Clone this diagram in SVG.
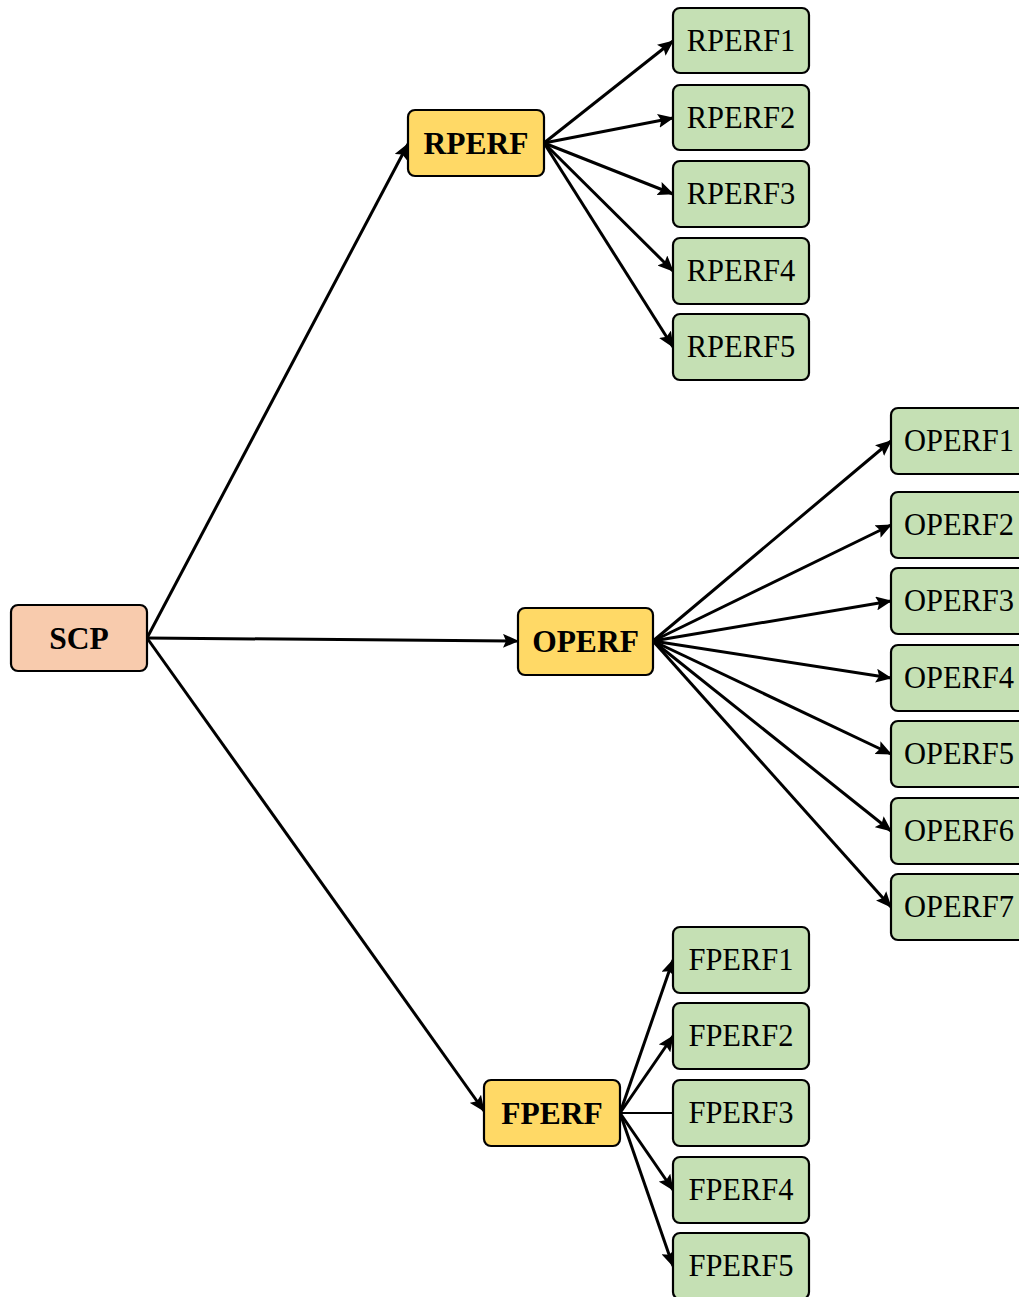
<svg xmlns="http://www.w3.org/2000/svg" width="1019" height="1297" viewBox="0 0 1019 1297">
<style>
.box{stroke:#000;stroke-width:2.2}
.root{fill:#f8cbad}
.mid{fill:#ffd966}
.leaf{fill:#c5e0b4}
.tb{font-family:"Liberation Serif","Times New Roman",serif;font-weight:bold;font-size:31.5px;text-anchor:middle;fill:#000}
.tr{font-family:"Liberation Serif","Times New Roman",serif;font-size:30.5px;text-anchor:middle;fill:#000}
.e{stroke:#000;stroke-width:3;fill:none}
.a{marker-end:url(#arr)}
</style>
<defs>
<marker id="arr" markerUnits="userSpaceOnUse" markerWidth="16" markerHeight="14" refX="15" refY="7" orient="auto">
<path d="M0,0 L16,7 L0,14 L3,7 Z" fill="#000"/>
</marker>
</defs>
<g id="connectors">
<line class="e a" x1="147" y1="638" x2="408" y2="144"/>
<line class="e a" x1="147" y1="638" x2="518" y2="641"/>
<line class="e a" x1="147" y1="638" x2="484" y2="1111"/>
<line class="e a" x1="544" y1="143" x2="673" y2="41"/>
<line class="e a" x1="544" y1="143" x2="673" y2="118"/>
<line class="e a" x1="544" y1="143" x2="673" y2="194"/>
<line class="e a" x1="544" y1="143" x2="673" y2="271"/>
<line class="e a" x1="544" y1="143" x2="673" y2="347"/>
<line class="e a" x1="653" y1="641" x2="891" y2="441"/>
<line class="e a" x1="653" y1="641" x2="891" y2="525"/>
<line class="e a" x1="653" y1="641" x2="891" y2="601"/>
<line class="e a" x1="653" y1="641" x2="891" y2="678"/>
<line class="e a" x1="653" y1="641" x2="891" y2="754"/>
<line class="e a" x1="653" y1="641" x2="891" y2="831"/>
<line class="e a" x1="653" y1="641" x2="891" y2="907"/>
<line class="e a" x1="620" y1="1113" x2="673" y2="960"/>
<line class="e a" x1="620" y1="1113" x2="673" y2="1036"/>
<line class="e" x1="620" y1="1113" x2="673" y2="1113" style="stroke-width:2"/>
<line class="e a" x1="620" y1="1113" x2="673" y2="1190"/>
<line class="e a" x1="620" y1="1113" x2="673" y2="1266"/>
</g>
<g id="SCP"><rect class="box root" x="11" y="605" width="136" height="66" rx="7"/><text class="tb" x="79" y="648.5">SCP</text></g>
<g id="RPERF"><rect class="box mid" x="408" y="110" width="136" height="66" rx="7"/><text class="tb" x="476" y="153.5">RPERF</text></g>
<g id="OPERF"><rect class="box mid" x="518" y="608" width="135" height="67" rx="7"/><text class="tb" x="585.5" y="652">OPERF</text></g>
<g id="FPERF"><rect class="box mid" x="484" y="1080" width="136" height="66" rx="7"/><text class="tb" x="552" y="1123.5">FPERF</text></g>
<g id="RPERF1"><rect class="box leaf" x="673" y="8" width="136" height="65" rx="7"/><text class="tr" x="741" y="50.5">RPERF1</text></g>
<g id="RPERF2"><rect class="box leaf" x="673" y="85" width="136" height="65" rx="7"/><text class="tr" x="741" y="127.5">RPERF2</text></g>
<g id="RPERF3"><rect class="box leaf" x="673" y="161" width="136" height="66" rx="7"/><text class="tr" x="741" y="204">RPERF3</text></g>
<g id="RPERF4"><rect class="box leaf" x="673" y="238" width="136" height="66" rx="7"/><text class="tr" x="741" y="281">RPERF4</text></g>
<g id="RPERF5"><rect class="box leaf" x="673" y="314" width="136" height="66" rx="7"/><text class="tr" x="741" y="357">RPERF5</text></g>
<g id="OPERF1"><rect class="box leaf" x="891" y="408" width="136" height="66" rx="7"/><text class="tr" x="959" y="451">OPERF1</text></g>
<g id="OPERF2"><rect class="box leaf" x="891" y="492" width="136" height="66" rx="7"/><text class="tr" x="959" y="535">OPERF2</text></g>
<g id="OPERF3"><rect class="box leaf" x="891" y="568" width="136" height="66" rx="7"/><text class="tr" x="959" y="611">OPERF3</text></g>
<g id="OPERF4"><rect class="box leaf" x="891" y="645" width="136" height="66" rx="7"/><text class="tr" x="959" y="688">OPERF4</text></g>
<g id="OPERF5"><rect class="box leaf" x="891" y="721" width="136" height="66" rx="7"/><text class="tr" x="959" y="764">OPERF5</text></g>
<g id="OPERF6"><rect class="box leaf" x="891" y="798" width="136" height="66" rx="7"/><text class="tr" x="959" y="841">OPERF6</text></g>
<g id="OPERF7"><rect class="box leaf" x="891" y="874" width="136" height="66" rx="7"/><text class="tr" x="959" y="917">OPERF7</text></g>
<g id="FPERF1"><rect class="box leaf" x="673" y="927" width="136" height="66" rx="7"/><text class="tr" x="741" y="970">FPERF1</text></g>
<g id="FPERF2"><rect class="box leaf" x="673" y="1003" width="136" height="66" rx="7"/><text class="tr" x="741" y="1046">FPERF2</text></g>
<g id="FPERF3"><rect class="box leaf" x="673" y="1080" width="136" height="66" rx="7"/><text class="tr" x="741" y="1123">FPERF3</text></g>
<g id="FPERF4"><rect class="box leaf" x="673" y="1157" width="136" height="66" rx="7"/><text class="tr" x="741" y="1200">FPERF4</text></g>
<g id="FPERF5"><rect class="box leaf" x="673" y="1233" width="136" height="66" rx="7"/><text class="tr" x="741" y="1276">FPERF5</text></g>
</svg>
